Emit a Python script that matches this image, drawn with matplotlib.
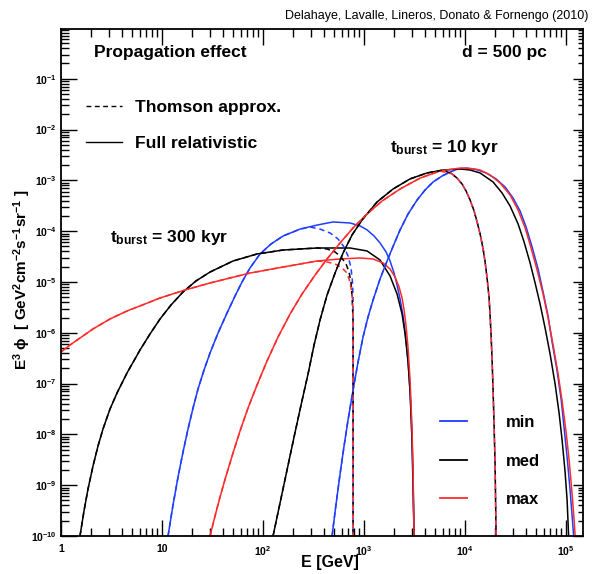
import matplotlib
matplotlib.use('Agg')
import matplotlib.pyplot as plt
from matplotlib.lines import Line2D
from matplotlib.ticker import FixedLocator, FixedFormatter, LogLocator, NullFormatter

plt.rcParams['font.family'] = ['Liberation Sans', 'DejaVu Sans']
plt.rcParams['font.weight'] = 'bold'
plt.rcParams['mathtext.fontset'] = 'custom'
plt.rcParams['mathtext.rm'] = 'Liberation Sans:bold'
plt.rcParams['mathtext.it'] = 'Liberation Sans:bold'
plt.rcParams['mathtext.bf'] = 'Liberation Sans:bold'

# ---- values: E [GeV] and E^3 phi [GeV^2 cm^-2 s^-1 sr^-1] ----
# t_burst = 300 kyr, full relativistic losses
e300_med = [1.542, 1.689, 1.851, 2.074, 2.325, 2.605, 3.056, 3.585, 4.504, 6.057, 7.605, 9.555, 12.28, 16.14, 21.71,
            29.87, 50.47, 87.22, 157.8, 342.5, 726.6, 1071, 1440, 1809, 2122, 2378, 2547, 2727, 2854, 2987, 3056, 3126]
f300_med = [1e-10, 3.11e-10, 8.42e-10, 2.39e-9, 5.91e-9, 1.28e-8, 3.16e-8, 6.53e-8, 1.62e-7, 4.59e-7, 9.47e-7, 1.87e-6,
            3.53e-6, 6.36e-6, 1.05e-5, 1.57e-5, 2.59e-5, 3.56e-5, 4.26e-5, 4.67e-5, 4.67e-5, 4.08e-5, 2.71e-5, 1.31e-5,
            5.80e-6, 2.34e-6, 9.47e-7, 2.66e-7, 6.83e-8, 7.76e-9, 1.27e-9, 1e-10]
e300_min = [11.47, 12.85, 14.40, 16.14, 18.09, 20.28, 22.72, 26.05, 29.87, 35.85, 44.01, 52.82, 61.96, 74.33, 93.39, 120.0,
            157.8, 232.5, 342.5, 493.4, 726.6, 912.8, 1071, 1256, 1440, 1651, 1809, 1982, 2122, 2272, 2433, 2547, 2666,
            2789, 2919, 2987, 3056, 3126]
f300_min = [1e-10, 4.08e-10, 1.45e-9, 4.50e-9, 1.28e-8, 3.31e-8, 7.83e-8, 1.85e-7, 4.00e-7, 9.91e-7, 2.45e-6, 5.30e-6,
            1.0e-5, 1.89e-5, 3.56e-5, 5.60e-5, 8.04e-5, 1.10e-4, 1.32e-4, 1.52e-4, 1.45e-4, 1.27e-4, 1.06e-4, 8.04e-5,
            5.86e-5, 3.90e-5, 2.59e-5, 1.50e-5, 8.73e-6, 4.63e-6, 2.14e-6, 1.08e-6, 4.59e-7, 1.48e-7, 3.02e-8, 6.18e-9,
            8.05e-10, 1e-10]
e300_max = [1.0, 1.228, 1.542, 2.074, 3.056, 4.504, 6.787, 9.555, 16.89, 29.87, 47.13, 74.33, 157.8, 342.5, 578.7, 912.8,
            1228, 1542, 1809, 2028, 2221, 2378, 2489, 2605, 2727, 2854, 2987, 3056, 3126]
f300_max = [4.19e-7, 5.75e-7, 7.90e-7, 1.19e-6, 1.87e-6, 2.69e-6, 3.69e-6, 4.84e-6, 6.96e-6, 9.56e-6, 1.20e-5, 1.50e-5,
            1.97e-5, 2.59e-5, 2.84e-5, 2.97e-5, 2.84e-5, 2.37e-5, 1.80e-5, 1.25e-5, 7.97e-6, 4.84e-6, 2.81e-6, 1.36e-6,
            5.02e-7, 1.18e-7, 1.22e-8, 1.99e-9, 1e-10]
# t_burst = 300 kyr, Thomson approximation: part that leaves the full curve
e300_med_cut = [430.3, 516.4, 592.1, 663.4, 710.4, 743.6, 760.7, 778.3, 778.3]
f300_med_cut = [4.46e-5, 3.90e-5, 3.10e-5, 2.26e-5, 1.57e-5, 9.56e-6, 5.07e-6, 1.79e-6, 1e-10]
e300_min_cut = [291.9, 366.7, 460.8, 552.8, 633.9, 694.2, 743.6, 769.5, 778.3, 778.3]
f300_min_cut = [1.21e-4, 1.10e-4, 9.22e-5, 7.02e-5, 4.89e-5, 3.25e-5, 1.89e-5, 9.56e-6, 4.42e-6, 1e-10]
e300_max_cut = [430.3, 516.4, 592.1, 663.4, 710.4, 743.6, 769.5, 778.3, 778.3]
f300_max_cut = [2.48e-5, 2.26e-5, 1.97e-5, 1.57e-5, 1.15e-5, 7.62e-6, 4.42e-6, 1.79e-6, 1e-10]

# t_burst = 10 kyr, full relativistic losses
e10_med = [125.6, 147.3, 172.8, 202.8, 237.8, 279.0, 319.9, 366.7, 430.3, 516.4, 619.6, 760.7, 955.4, 1345, 1937, 2854,
           4206, 6056, 8925, 11210, 14080, 18930, 23240, 27890, 33480, 38390, 44020, 49340, 55270, 61960, 69430, 77820,
           85230, 91290, 97740, 102300, 105900]
f10_med = [1e-10, 4.46e-10, 1.99e-9, 8.89e-9, 3.79e-8, 1.55e-7, 5.75e-7, 1.79e-6, 5.55e-6, 1.50e-5, 3.72e-5, 8.42e-5,
           1.66e-4, 3.76e-4, 6.77e-4, 1.07e-3, 1.40e-3, 1.60e-3, 1.68e-3, 1.60e-3, 1.40e-3, 9.30e-4, 5.65e-4, 3.13e-4,
           1.39e-4, 6.13e-5, 2.37e-5, 9.56e-6, 3.69e-6, 1.24e-6, 3.82e-7, 9.82e-8, 2.64e-8, 7.76e-9, 1.82e-9, 5.11e-10, 1e-10]
e10_min = [482.2, 528.4, 578.7, 633.9, 694.2, 778.3, 872.0, 977.4, 1095, 1228, 1440, 1689, 1982, 2272, 2727, 3348, 4018,
           4823, 5919, 7102, 8523, 10230, 12850, 16140, 20280, 24890, 29870, 35050, 40180, 46080, 52820, 59190, 66340,
           72660, 81450, 89250, 95540, 102300, 109500, 114700, 118700]
f10_min = [1e-10, 4.27e-10, 1.66e-9, 5.91e-9, 1.92e-8, 7.48e-8, 2.66e-7, 8.27e-7, 2.05e-6, 4.42e-6, 1.15e-5, 2.59e-5,
           5.60e-5, 1.06e-4, 2.18e-4, 4.11e-4, 6.47e-4, 9.30e-4, 1.22e-3, 1.46e-3, 1.68e-3, 1.75e-3, 1.64e-3, 1.40e-3,
           1.07e-3, 7.42e-4, 4.50e-4, 2.50e-4, 1.21e-4, 4.89e-5, 1.80e-5, 6.36e-6, 2.14e-6, 6.59e-7, 1.77e-7, 4.98e-8,
           1.34e-8, 3.59e-9, 8.05e-10, 2.48e-10, 1e-10]
e10_max = [29.87, 33.48, 37.52, 43.02, 50.47, 59.19, 71.02, 87.22, 109.5, 140.8, 185.1, 243.3, 327.3, 430.3, 578.7, 778.3,
           1071, 1507, 2272, 3585, 5655, 8925, 11210, 14080, 17680, 22210, 27890, 33480, 39280, 45040, 51640, 59190,
           66340, 74330, 83310, 91290, 100000, 107100, 114700, 120000, 122800]
f10_max = [1e-10, 2.48e-10, 5.86e-10, 1.52e-9, 4.30e-9, 1.17e-8, 3.31e-8, 9.38e-8, 2.79e-7, 8.27e-7, 2.34e-6, 5.80e-6,
           1.37e-5, 2.84e-5, 5.86e-5, 1.16e-4, 2.18e-4, 3.93e-4, 6.77e-4, 1.11e-3, 1.53e-3, 1.75e-3, 1.72e-3, 1.60e-3,
           1.28e-3, 8.89e-4, 5.16e-4, 2.61e-4, 1.16e-4, 4.67e-5, 1.72e-5, 5.80e-6, 1.96e-6, 5.75e-7, 1.55e-7, 4.55e-8,
           1.11e-8, 3.13e-9, 6.71e-10, 2.07e-10, 1e-10]
# t_burst = 10 kyr, Thomson approximation: high-energy side, the same for the three models
e10_cut = [7433, 8331, 9339, 10230, 11210, 12280, 13150, 14080, 15080, 15780, 16510, 17290, 17680, 18090, 18510, 18930,
           19370, 19820, 20280]
f10_cut = [1.34e-3, 1.11e-3, 8.49e-4, 6.18e-4, 4.11e-4, 2.50e-4, 1.52e-4, 8.81e-5, 4.46e-5, 2.48e-5, 1.20e-5, 4.84e-6,
           2.24e-6, 9.05e-7, 2.92e-7, 7.48e-8, 1.53e-8, 2.50e-9, 1e-10]

models = ['min', 'med', 'max']
colors = {'min': '#1f3dff', 'med': 'black', 'max': '#ff2b2b'}
full = {('300', 'min'): (e300_min, f300_min), ('300', 'med'): (e300_med, f300_med), ('300', 'max'): (e300_max, f300_max),
        ('10', 'min'): (e10_min, f10_min), ('10', 'med'): (e10_med, f10_med), ('10', 'max'): (e10_max, f10_max)}
# Thomson curves = full curve up to where they split, then their own cut-off branch
thomson = {('300', 'min'): (e300_min[:18] + e300_min_cut, f300_min[:18] + f300_min_cut),
           ('300', 'med'): (e300_med[:20] + e300_med_cut, f300_med[:20] + f300_med_cut),
           ('300', 'max'): (e300_max[:14] + e300_max_cut, f300_max[:14] + f300_max_cut),
           ('10', 'min'): (e10_min[:20] + e10_cut, f10_min[:20] + f10_cut),
           ('10', 'med'): (e10_med[:18] + e10_cut, f10_med[:18] + f10_cut),
           ('10', 'max'): (e10_max[:21] + e10_cut, f10_max[:21] + f10_cut)}

DASH = (0, (3.5, 2.5))
LW = 1.1

fig = plt.figure(figsize=(5.92, 5.74), dpi=100)
ax = fig.add_axes([61/592, 1-536/574, 522/592, 507/574])
ax.set_xscale('log'); ax.set_yscale('log')

for t in ['300', '10']:
    for m in models:
        e, f = full[(t, m)]
        ax.plot(e, f, color=colors[m], lw=LW, solid_joinstyle='round')
for t in ['300', '10']:
    for m in models:
        e, f = thomson[(t, m)]
        ax.plot(e, f, color=colors[m], lw=LW, ls=DASH)

ax.set_xlim(1, 1.47e5)
ax.set_ylim(1e-10, 0.955)

# ROOT-like log axes
ax.xaxis.set_major_locator(FixedLocator([1, 10, 1e2, 1e3, 1e4, 1e5]))
ax.xaxis.set_major_formatter(FixedFormatter(['1', '10', '$10^{2}$', '$10^{3}$', '$10^{4}$', '$10^{5}$']))
ax.xaxis.set_minor_locator(LogLocator(base=10, subs=range(2, 10), numticks=20))
ax.xaxis.set_minor_formatter(NullFormatter())
ax.yaxis.set_major_locator(FixedLocator([10.0**k for k in range(-10, 0)]))
ax.yaxis.set_major_formatter(FixedFormatter(['$10^{%d}$' % k for k in range(-10, 0)]))
ax.yaxis.set_minor_locator(LogLocator(base=10, subs=range(2, 10), numticks=20))
ax.yaxis.set_minor_formatter(NullFormatter())
ax.tick_params(which='both', direction='in', top=True, right=True, width=1.0, labelsize=7.5)
ax.tick_params(which='major', length=11.5)
ax.tick_params(which='minor', length=6)
ax.tick_params(axis='x', pad=6)
ax.tick_params(axis='y', pad=3)
for tk in ax.yaxis.get_major_ticks():
    tk.tick2line.set_markersize(7)
for tk in ax.yaxis.get_minor_ticks():
    tk.tick2line.set_markersize(3.5)
for s in ax.spines.values():
    s.set_linewidth(1.3)

# texts
ax.text(0.063, 0.953, 'Propagation effect', transform=ax.transAxes, fontsize=12.5, va='center', ha='left')
ax.text(0.931, 0.953, 'd = 500 pc', transform=ax.transAxes, fontsize=12.5, va='center', ha='right')
ax.text(0.630, 0.767, r'$\mathrm{t_{burst}}$ = 10 kyr', transform=ax.transAxes, fontsize=12.5, va='center', ha='left')
ax.text(0.094, 0.588, r'$\mathrm{t_{burst}}$ = 300 kyr', transform=ax.transAxes, fontsize=12.5, va='center', ha='left')
fig.text(588/592, 1-16/574, 'Delahaye, Lavalle, Lineros, Donato & Fornengo (2010)', fontsize=9,
         fontweight='normal', ha='right', va='center')
fig.text(330/592, 1-562/574, 'E [GeV]', fontsize=11.5, ha='center', va='center')
fig.text(22/592, 1-280/574, r'E$^{3}$ $\phi$  [ GeV$^{2}$cm$^{-2}$s$^{-1}$sr$^{-1}$ ]', fontsize=11,
         rotation=90, ha='center', va='center')

# legends
h1 = [Line2D([], [], color='black', lw=1.0, ls=(0, (3.5, 2.5))), Line2D([], [], color='black', lw=1.0)]
leg1 = ax.legend(h1, ['Thomson approx.', 'Full relativistic'], loc='upper left', bbox_to_anchor=(0.048, 0.861),
                 frameon=False, fontsize=12.5, handlelength=2.07, handletextpad=0.75, labelspacing=1.24,
                 borderpad=0, borderaxespad=0)
ax.add_artist(leg1)
h2 = [Line2D([], [], color=colors[m], lw=1.3) for m in models]
ax.legend(h2, models, loc='upper left', bbox_to_anchor=(0.726, 0.2387), frameon=False, fontsize=12,
          handlelength=1.62, handletextpad=2.33, labelspacing=1.42, borderpad=0, borderaxespad=0)

fig.savefig('out.png', dpi=100)
